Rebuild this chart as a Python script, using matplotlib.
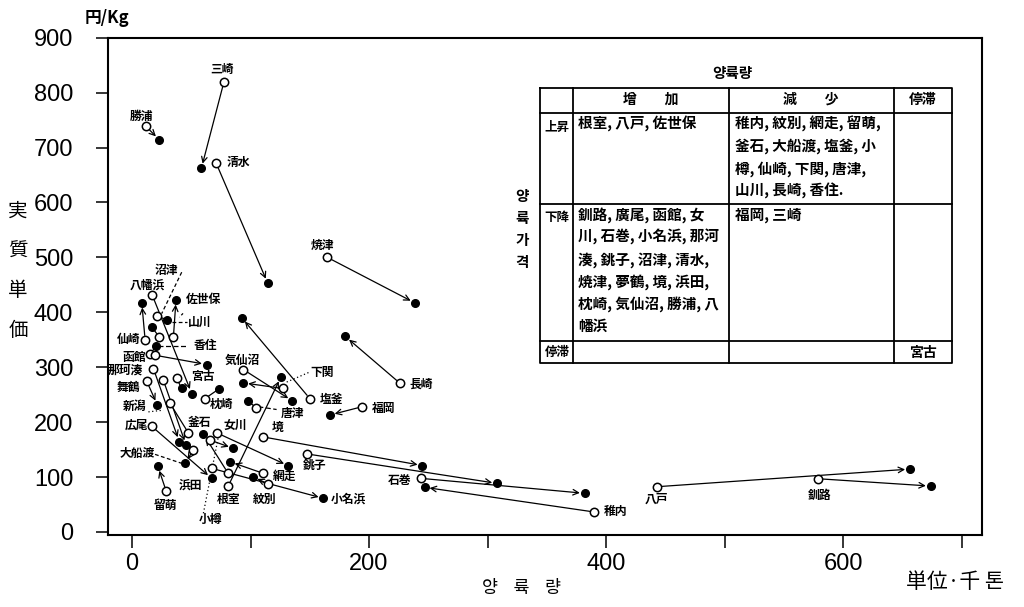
import matplotlib
matplotlib.use("Agg")
import matplotlib.pyplot as plt
import numpy as np

plt.rcParams['font.family'] = ['Noto Sans CJK JP', 'DejaVu Sans']

# 港別 양륙량(千톤) / 実質単価(円/Kg) : 前期(○) -> 後期(●)
ports = ["三崎", "勝浦", "清水", "焼津", "長崎", "福岡", "塩釜", "境", "銚子", "石巻",
         "稚内", "八戸", "釧路", "女川", "小名浜", "紋別", "網走", "根室", "下関", "気仙沼",
         "唐津", "枕崎", "宮古", "八幡浜", "佐世保", "仙崎", "沼津", "山川", "香住", "函館",
         "那珂湊", "", "新潟", "釜石", "大船渡", "留萌", "浜田", "広尾", "舞鶴"]
qty_before = [77.6, 11.6, 70.9, 164.8, 226, 194, 150, 110.8, 148, 244,
              390, 443, 578.6, 71.5, 67.3, 115, 110.8, 81.3, 127.2, 93.9,
              104.6, 61.6, 37.7, 17.1, 34.9, 11, 21.4, 23, 15.2, 19.4,
              18, 26.4, 32.1, 80.8, 51.7, 28.7, 65.8, 16.5, 12.4]
price_before = [820, 739, 672, 500, 271, 228, 243, 173, 142, 97.6,
                36.4, 82.4, 97, 180.5, 115.8, 87.3, 106.7, 84.2, 261.3, 295.8,
                226, 243, 279.5, 431, 355, 350.4, 392.7, 355, 323.6, 321.8,
                297.6, 276.4, 234, 107.8, 149.1, 75.1, 167.3, 192.7, 274.5]
qty_after = [58.5, 23, 114.5, 238.8, 180, 167, 92.6, 245, 308, 382,
             247, 656.5, 674, 132, 161.4, 102, 82.7, 125.7, 93.9, 135.3,
             98.1, 73.7, 41.9, 50.4, 37.1, 8.2, 29.3, 16.6, 20.3, 63,
             39.9, 45.6, 47.5, 60.2, 44.7, 21.7, 85.5, 67.2, 21.4]
price_after = [662, 714, 453, 417, 356, 213, 390, 121, 88.5, 70.4,
               81.3, 114.5, 83.6, 120.5, 61.3, 100.5, 127.8, 282.4, 271.5, 238.7,
               238.7, 261, 261.3, 252, 423, 417.6, 386.7, 373.3, 338.7, 304.9,
               164.2, 158.2, 180.5, 178.2, 124.9, 120, 152.2, 97.6, 231]
has_arrow = [1, 1, 1, 1, 1, 1, 1, 1, 1, 1,
             1, 1, 1, 1, 1, 1, 1, 1, 1, 1,
             0, 0, 0, 1, 1, 1, 0, 0, 0, 1,
             1, 1, 0, 1, 1, 1, 1, 1, 1]
end_filled = [1] * 32 + [0] + [1] * 6

# label placement (data coords)
label_pos = {
    "三崎": (75.7, 842, "center"), "勝浦": (8.2, 757, "center"), "清水": (80, 672, "left"),
    "焼津": (160.9, 522, "center"), "長崎": (234, 269, "left"), "福岡": (202, 225, "left"),
    "塩釜": (158, 242, "left"), "境": (122.6, 191, "center"), "銚子": (154.4, 122, "center"),
    "石巻": (236, 94, "right"), "稚内": (398, 37, "left"), "八戸": (442.8, 60, "center"),
    "釧路": (580, 67, "center"), "女川": (86.9, 195, "center"), "小名浜": (168, 59, "left"),
    "紋別": (112.2, 59, "center"), "網走": (129.1, 101, "center"), "根室": (81.3, 59, "center"),
    "下関": (160, 291, "center"), "気仙沼": (93.4, 313, "center"), "唐津": (135.6, 216, "center"),
    "枕崎": (75.7, 233, "center"), "宮古": (60.2, 283, "center"), "八幡浜": (12.9, 449, "center"),
    "佐世保": (60.2, 423, "center"), "仙崎": (-3.1, 350, "center"), "沼津": (29.3, 476, "center"),
    "山川": (57.4, 382, "center"), "香住": (61.6, 339, "center"), "函館": (1.7, 318, "center"),
    "那珂湊": (-5.9, 295, "center"), "新潟": (2.5, 228, "center"), "釜石": (56.8, 200, "center"),
    "大船渡": (4.5, 143, "center"), "留萌": (27.8, 49, "center"), "浜田": (48.9, 86, "center"),
    "広尾": (4, 195, "center"), "舞鶴": (-3.1, 264, "center"),
}
extra_labels = [("小樽", 65.8, 22)]
leaders = [  # label leader lines (x0, y0, x1, y1, style)
    (41.9, 473, 25, 397.6, (0, (3, 2))),
    (33.8, 382.4, 46.5, 382.4, (0, (3, 2))),
    (21.7, 338.7, 47.5, 338.7, (0, (4, 2))),
    (-20, 294.5, -14.5, 294.5, "-"),
    (106.6, 228, 122, 223, (0, (4, 2))),
    (130.5, 273, 150.2, 291.5, (0, (1, 2))),
    (13.8, 218.7, 26.4, 221.8, (0, (1, 2))),
    (19.4, 141.3, 41.9, 125, (0, (3, 2))),
    (60.2, 34, 72.8, 173, (0, (1, 2))),
    (43, 398, 40, 391, (0, (2, 2))),
]

fig = plt.figure(figsize=(10.24, 6.07), dpi=100)
ax = fig.add_axes([108 / 1024, 1 - 535 / 607, (982 - 108) / 1024, (535 - 37.7) / 607])
ax.set_xlim(-20.3, 717.3)
ax.set_ylim(-5.5, 900)

for i in range(len(ports)):
    if has_arrow[i]:
        ax.annotate("", xy=(qty_after[i], price_after[i]), xytext=(qty_before[i], price_before[i]),
                    arrowprops=dict(arrowstyle="->", lw=0.9, color="black",
                                    shrinkA=3, shrinkB=3.5, mutation_scale=10))
    else:
        ax.plot([qty_before[i], qty_after[i]], [price_before[i], price_after[i]],
                color="black", lw=0.9)

for x0, y0, x1, y1, ls in leaders:
    ax.plot([x0, x1], [y0, y1], color="black", lw=0.9, linestyle=ls)

qa = np.array(qty_after)
pa = np.array(price_after)
ef = np.array(end_filled, dtype=bool)
ax.plot(qa[ef], pa[ef], "o", color="black", ms=5.5, zorder=4)
ax.plot(qa[~ef], pa[~ef], "o", mfc="white", mec="black", mew=1.1, ms=6, zorder=4)
ax.plot(qty_before, price_before, "o", mfc="white", mec="black", mew=1.1, ms=6, zorder=4)

for name, (lx, ly, ha) in label_pos.items():
    ax.text(lx, ly, name, fontsize=8.5, fontweight="bold", ha=ha, va="center")
for name, lx, ly in extra_labels:
    ax.text(lx, ly, name, fontsize=8.5, fontweight="bold", ha="center", va="center")

ax.set_xticks([0, 200, 400, 600])
ax.set_xticks([100, 300, 500, 700], minor=True)
ax.set_yticks(np.arange(0, 901, 100))
tick_font = ['Liberation Sans', 'DejaVu Sans']
ax.set_xticklabels(["0", "200", "400", "600"], family=tick_font, fontsize=17)
ax.set_yticklabels([str(v) for v in range(0, 901, 100)], family=tick_font, fontsize=17)
ax.tick_params(axis="both", which="both", direction="out", length=9, width=1.1)
ax.tick_params(axis="x", pad=4)
ax.tick_params(axis="y", pad=16)
for s in ax.spines.values():
    s.set_linewidth(1.5)

# annotation layer in pixel coordinates
ov = fig.add_axes([0, 0, 1, 1])
ov.set_xlim(0, 1024)
ov.set_ylim(607, 0)
ov.axis("off")

ov.text(107, 18, "円/Kg", fontsize=12, fontweight="bold", ha="center", va="center")
for k, ch in enumerate("実質単価"):
    ov.text(18, 211 + k * 40, ch, fontsize=14, ha="center", va="center")
ov.text(522, 588, "양    륙    량", fontsize=12.5, ha="center", va="center")
ov.text(955, 582, "単位·千 톤", fontsize=15, ha="center", va="center")

# summary table
lw_t = 1.3
ov.plot([540, 952, 952, 540, 540], [88, 88, 363, 363, 88], color="black", lw=lw_t)
for xv in [573, 729, 894]:
    ov.plot([xv, xv], [88, 363], color="black", lw=lw_t)
for yv in [113, 204, 341]:
    ov.plot([540, 952], [yv, yv], color="black", lw=lw_t)

ov.text(732, 73, "양륙량", fontsize=10.5, fontweight="bold", ha="center", va="center")
for k, ch in enumerate("양륙가격"):
    ov.text(522, 196 + k * 22, ch, fontsize=10.5, fontweight="bold", ha="center", va="center")

col_heads = ["增　　加", "減　　少", "停滞"]
row_heads = ["上昇", "下降", "停滞"]
cells = {
    (0, 0): "根室, 八戸, 佐世保",
    (0, 1): "稚内, 紋別, 網走, 留萌,\n釜石, 大船渡, 塩釜, 小\n樽, 仙崎, 下関, 唐津,\n山川, 長崎, 香住.",
    (1, 0): "釧路, 廣尾, 函館, 女\n川, 石巻, 小名浜, 那河\n湊, 銚子, 沼津, 清水,\n焼津, 夢鶴, 境, 浜田,\n枕崎, 気仙沼, 勝浦, 八\n幡浜",
    (1, 1): "福岡, 三崎",
    (2, 2): "宮古",
}
ov.text(651, 100, col_heads[0], fontsize=10, fontweight="bold", ha="center", va="center")
ov.text(811, 100, col_heads[1], fontsize=10, fontweight="bold", ha="center", va="center")
ov.text(923, 100, col_heads[2], fontsize=10, fontweight="bold", ha="center", va="center")
for r, yv in zip(range(3), [127, 218, 352]):
    ov.text(557, yv, row_heads[r], fontsize=9, fontweight="bold", ha="center", va="center")
cell_x = [578, 735, 923]
cell_y = [116, 207, 353]
for (r, c), txt in cells.items():
    if (r, c) == (2, 2):
        ov.text(cell_x[c], cell_y[r], txt, fontsize=10, fontweight="bold", ha="center", va="center")
    else:
        ov.text(cell_x[c], cell_y[r], txt, fontsize=10.5, fontweight="bold", ha="left", va="top",
                linespacing=1.45)

fig.savefig("out.png", dpi=100)
